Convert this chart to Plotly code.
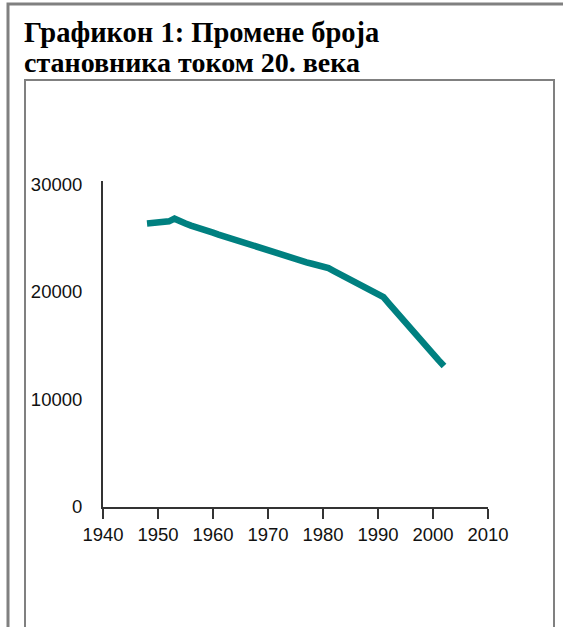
import plotly.graph_objects as go

# ---- data ----
years = list(range(1948, 2003))
population = [
    26350, 26400, 26450, 26500, 26550, 26800, 26650, 26350, 26150, 25950,
    25800, 25650, 25500, 25320, 25150, 24980, 24820, 24650, 24480, 24310,
    24140, 23970, 23800, 23640, 23480, 23320, 23160, 23000, 22870, 22740,
    22610, 22480, 22350, 22200, 21930, 21660, 21400, 21130, 20860, 20600,
    20330, 20060, 19800, 19500, 18900, 18300, 17650, 17050, 16450, 15850,
    15300, 14750, 14200, 13650, 13100,
]
x_ticks = [1940, 1950, 1960, 1970, 1980, 1990, 2000, 2010]
y_ticks = [0, 10000, 20000, 30000]
title_line1 = "Графикон 1: Промене броја"
title_line2 = "становника током 20. века"

# ---- geometry (pixels) ----
FW, FH = 563, 627
L, R, T, B = 103, 75, 181, 120
PW = FW - L - R
PH = FH - T - B


def px(xp):
    return (xp - L) / PW


def py(yp):
    return (FH - B - yp) / PH


fig = go.Figure()
fig.add_trace(go.Scatter(
    x=years, y=population, mode="lines",
    line=dict(color="#008080", width=6.5),
    hoverinfo="x+y", showlegend=False,
))

axis_font = dict(family="Liberation Sans, Arial, sans-serif", size=18.5, color="#111111")

fig.update_layout(
    width=FW, height=FH,
    margin=dict(l=L, r=R, t=T, b=B, pad=0),
    paper_bgcolor="white", plot_bgcolor="white",
    xaxis=dict(
        range=[1940, 2010], tickvals=x_ticks, ticktext=[str(v) for v in x_ticks],
        showgrid=False, zeroline=False, showline=True, linecolor="#333333", linewidth=2,
        ticks="outside", ticklen=10, tickwidth=2, tickcolor="#333333",
        tickfont=axis_font, fixedrange=True,
    ),
    yaxis=dict(
        range=[0, 30300], tickvals=y_ticks, ticktext=[str(v) for v in y_ticks],
        showgrid=False, zeroline=False, showline=True, linecolor="#333333", linewidth=2,
        ticks="", ticklabelstandoff=15,
        tickfont=axis_font, fixedrange=True,
    ),
    shapes=[
        # outer frame
        dict(type="rect", xref="paper", yref="paper",
             x0=px(8), x1=px(FW + 20), y0=py(4), y1=py(FH + 20),
             line=dict(color="#808080", width=3), fillcolor="rgba(0,0,0,0)", layer="below"),
        # inner box
        dict(type="rect", xref="paper", yref="paper",
             x0=px(25), x1=px(554), y0=py(80), y1=py(FH + 20),
             line=dict(color="#808080", width=2), fillcolor="rgba(0,0,0,0)", layer="below"),
    ],
    annotations=[
        dict(text="<b>%s</b>" % title_line1, xref="paper", yref="paper",
             x=px(22), y=py(15), xanchor="left", yanchor="top", showarrow=False,
             font=dict(family="Liberation Serif, Times New Roman, serif", size=28.5, color="black")),
        dict(text="<b>%s</b>" % title_line2, xref="paper", yref="paper",
             x=px(22), y=py(45), xanchor="left", yanchor="top", showarrow=False,
             font=dict(family="Liberation Serif, Times New Roman, serif", size=28, color="black")),
    ],
)

fig.write_html("out.html", config={"displayModeBar": False},
               post_script="document.body.style.margin='0';")
